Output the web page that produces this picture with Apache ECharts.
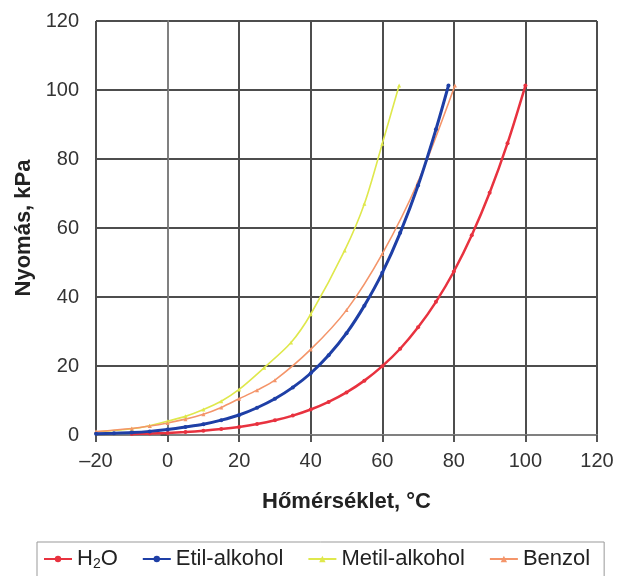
<!DOCTYPE html>
<html>
<head>
<meta charset="utf-8">
<script src="https://cdn.jsdelivr.net/npm/echarts@6/dist/echarts.min.js"></script>
<style>
  html, body { margin: 0; padding: 0; background: #fff; }
  #chart { width: 620px; height: 576px; }
</style>
</head>
<body>
<div id="chart"></div>
<script>
// gőznyomás adatok (hőmérséklet °C, nyomás kPa)
const waterT = [-10, -5, 0, 5, 10, 15, 20, 25, 30, 35, 40, 45, 50, 55, 60, 65, 70, 75, 80, 85, 90, 95, 100];
const waterP = [0.29, 0.42, 0.61, 0.87, 1.23, 1.71, 2.34, 3.17, 4.25, 5.63, 7.38, 9.59, 12.35, 15.76, 19.95, 25.0, 31.2, 38.6, 47.4, 57.9, 70.2, 84.6, 101.3];

const ethanolT = [-20, -15, -10, -5, 0, 5, 10, 15, 20, 25, 30, 35, 40, 45, 50, 55, 60, 65, 70, 75, 78.5];
const ethanolP = [0.33, 0.48, 0.69, 1.05, 1.6, 2.3, 3.1, 4.3, 5.8, 7.9, 10.5, 13.8, 17.9, 23.1, 29.5, 37.5, 47.0, 58.6, 72.3, 88.6, 101.3];

const methanolT = [-20, -10, -5, 0, 5, 10, 15, 20, 27, 34.5, 40, 49.5, 55, 60, 64.7];
const methanolP = [0.85, 1.8, 2.7, 4.0, 5.4, 7.4, 9.8, 13.2, 19.5, 26.8, 35.0, 53.5, 67.0, 84.4, 101.3];

const benzeneT = [-20, -10, -5, 0, 5, 10, 15, 20, 25, 30, 40, 50, 60, 70, 80.3];
const benzeneP = [1.0, 1.9, 2.6, 3.5, 4.6, 6.0, 8.0, 10.5, 13.0, 15.9, 24.8, 36.2, 52.5, 73.4, 101.3];

const seriesNames = ['H2O', 'Etil-alkohol', 'Metil-alkohol', 'Benzol'];
const seriesColors = ['#e8323f', '#1e3fa6', '#dfe84c', '#f4956a'];

const FONT = 'Liberation Sans';

function pairs(xs, ys) {
  return xs.map((x, i) => [x, ys[i]]);
}

const chart = echarts.init(document.getElementById('chart'));

const lineWidths = [2.5, 3, 1.6, 1.6];
const symbols = ['circle', 'circle', 'triangle', 'triangle'];
const dataSets = [
  pairs(waterT, waterP),
  pairs(ethanolT, ethanolP),
  pairs(methanolT, methanolP),
  pairs(benzeneT, benzeneP)
];

const series = seriesNames.map((name, i) => ({
  name: name,
  type: 'line',
  data: dataSets[i],
  smooth: 0.3,
  symbol: symbols[i],
  symbolSize: 4,
  showSymbol: true,
  color: seriesColors[i],
  lineStyle: { width: lineWidths[i], color: seriesColors[i] },
  itemStyle: { color: seriesColors[i] },
  z: 3 + (i === 1 ? 1 : 0)
}));

const option = {
  animation: false,
  backgroundColor: '#fff',
  textStyle: { fontFamily: FONT },
  grid: { left: 96, right: 23, top: 21, bottom: 141, containLabel: false },
  xAxis: {
    type: 'value',
    min: -20, max: 120, interval: 20,
    name: 'Hőmérséklet, °C',
    nameLocation: 'middle',
    nameGap: 56,
    nameTextStyle: { fontFamily: FONT, fontWeight: 'bold', fontSize: 22, color: '#222' },
    axisLine: { onZero: false, lineStyle: { color: '#808080', width: 2 } },
    axisTick: { show: true, length: 7, lineStyle: { color: '#555', width: 2 } },
    axisLabel: {
      fontFamily: FONT, fontSize: 20, color: '#333', margin: 16,
      formatter: v => String(v).replace('-', '–')
    },
    splitLine: { show: true, lineStyle: { color: '#4d4d4d', width: 2 } }
  },
  yAxis: {
    type: 'value',
    min: 0, max: 120, interval: 20,
    name: 'Nyomás, kPa',
    nameLocation: 'middle',
    nameGap: 59,
    nameTextStyle: { fontFamily: FONT, fontWeight: 'bold', fontSize: 22, color: '#222' },
    axisLine: { show: true, lineStyle: { color: '#808080', width: 2 } },
    axisTick: { show: true, length: 7, lineStyle: { color: '#555', width: 2 } },
    axisLabel: { fontFamily: FONT, fontSize: 20, color: '#333', margin: 17 },
    splitLine: { show: true, lineStyle: { color: '#4d4d4d', width: 2 } }
  },
  legend: {
    left: 37,
    top: 542,
    padding: [6, 14, 12, 6],
    borderColor: '#999',
    borderWidth: 1,
    itemWidth: 28,
    itemHeight: 8,
    itemGap: 24,
    data: seriesNames,
    textStyle: {
      fontFamily: FONT, fontSize: 22, color: '#222',
      rich: {
        n: { fontFamily: FONT, fontSize: 22, color: '#222' },
        s: { fontFamily: FONT, fontSize: 14, color: '#222', verticalAlign: 'bottom', padding: [10, 0, 0, 0] }
      }
    },
    formatter: name => name === 'H2O' ? '{n|H}{s|2}{n|O}' : name
  },
  series: series
};

chart.setOption(option);
</script>
</body>
</html>
